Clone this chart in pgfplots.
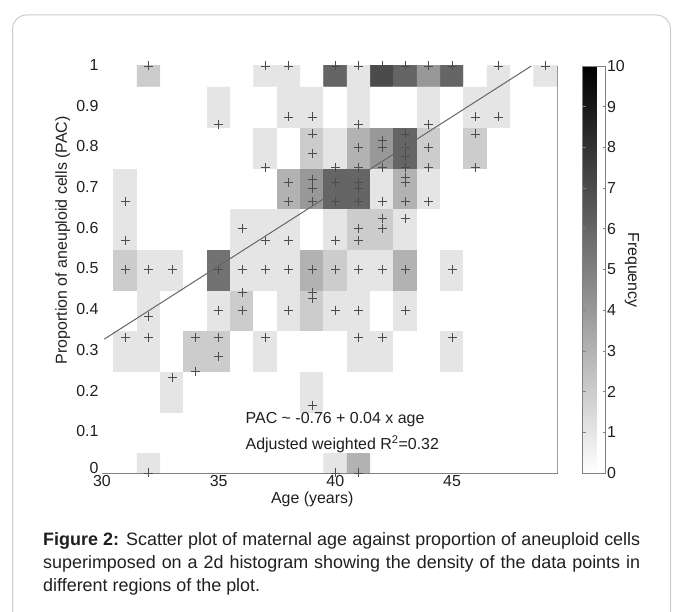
\documentclass[border=0pt]{standalone}
\usepackage{pgfplots}
\pgfplotsset{compat=1.18}
\usepackage{fontspec}
\setmainfont{Liberation Sans}
\pgfplotsset{/pgf/number format/assume math mode=true}
\definecolor{axgray}{gray}{0.5}
\definecolor{markgray}{gray}{0.3}
\definecolor{framegray}{gray}{0.8}
\definecolor{txt}{gray}{0.12}
\begin{document}
\begin{tikzpicture}
\useasboundingbox (0,0) rectangle (683bp,612bp);
\clip (0,0) rectangle (683bp,612bp);
\draw[framegray, line width=1bp, rounded corners=14bp] (12.5bp,-30bp) rectangle (670.5bp,597bp);
\begin{axis}[
  at={(102bp,139bp)}, anchor=south west,
  scale only axis, width=455bp, height=407bp,
  xmin=30, xmax=49.5, ymin=0, ymax=1,
  xtick={30,35,40,45},
  ytick={0,0.1,0.2,0.3,0.4,0.5,0.6,0.7,0.8,0.9,1},
  yticklabels={\raisebox{-2bp}[0pt][0pt]{0},0.1,0.2,0.3,0.4,0.5,0.6,0.7,0.8,0.9,1},
  tick align=inside, major tick length=5bp,
  axis line style={axgray, line width=0.8bp},
  tick style={axgray, line width=0.8bp},
  tick label style={font=\fontsize{16}{19}\selectfont, text=txt},
  xticklabel style={anchor=north, inner ysep=0pt, yshift=-2.5bp},
  yticklabel style={inner ysep=0pt, yshift=1bp},
  label style={font=\fontsize{16}{19}\selectfont, text=txt},
  xlabel={Age (years)},
  ylabel={Proportion of aneuploid cells (PAC)},
  xlabel style={at={(axis description cs:0.462,-0.064)}, anchor=center, inner ysep=0pt},
  ylabel style={at={(axis description cs:-0.086,0.572)}, anchor=center},
  colormap={bw}{color=(white) color=(black)},
  point meta min=0, point meta max=10,
  clip mode=individual,
  colorbar,
  colorbar style={
    at={(parent axis.north east)}, anchor=north west, xshift=17bp,
    width=23bp,
    ytick={0,1,2,3,4,5,6,7,8,9,10},
    tick align=inside, major tick length=3bp,
    axis line style={axgray, line width=0.8bp},
    tick style={axgray, line width=0.6bp},
    yticklabel style={font=\fontsize{16}{19}\selectfont, text=txt, xshift=-2bp},
  },
]
\addplot[matrix plot*, mesh/cols=20, point meta=explicit] coordinates {
(30,0)[0] (31,0)[0] (32,0)[1] (33,0)[0] (34,0)[0] (35,0)[0] (36,0)[0] (37,0)[0] (38,0)[0] (39,0)[0] (40,0)[1] (41,0)[3] (42,0)[0] (43,0)[0] (44,0)[0] (45,0)[0] (46,0)[0] (47,0)[0] (48,0)[0] (49,0)[0]

(30,0.1)[0] (31,0.1)[0] (32,0.1)[0] (33,0.1)[0] (34,0.1)[0] (35,0.1)[0] (36,0.1)[0] (37,0.1)[0] (38,0.1)[0] (39,0.1)[0] (40,0.1)[0] (41,0.1)[0] (42,0.1)[0] (43,0.1)[0] (44,0.1)[0] (45,0.1)[0] (46,0.1)[0] (47,0.1)[0] (48,0.1)[0] (49,0.1)[0]

(30,0.2)[0] (31,0.2)[0] (32,0.2)[0] (33,0.2)[1] (34,0.2)[0] (35,0.2)[0] (36,0.2)[0] (37,0.2)[0] (38,0.2)[0] (39,0.2)[1] (40,0.2)[0] (41,0.2)[0] (42,0.2)[0] (43,0.2)[0] (44,0.2)[0] (45,0.2)[0] (46,0.2)[0] (47,0.2)[0] (48,0.2)[0] (49,0.2)[0]

(30,0.3)[0] (31,0.3)[1] (32,0.3)[1] (33,0.3)[0] (34,0.3)[2] (35,0.3)[2] (36,0.3)[0] (37,0.3)[1] (38,0.3)[0] (39,0.3)[0] (40,0.3)[0] (41,0.3)[1] (42,0.3)[1] (43,0.3)[0] (44,0.3)[0] (45,0.3)[1] (46,0.3)[0] (47,0.3)[0] (48,0.3)[0] (49,0.3)[0]

(30,0.4)[0] (31,0.4)[0] (32,0.4)[1] (33,0.4)[0] (34,0.4)[0] (35,0.4)[1] (36,0.4)[2] (37,0.4)[0] (38,0.4)[1] (39,0.4)[2] (40,0.4)[1] (41,0.4)[1] (42,0.4)[0] (43,0.4)[1] (44,0.4)[0] (45,0.4)[0] (46,0.4)[0] (47,0.4)[0] (48,0.4)[0] (49,0.4)[0]

(30,0.5)[0] (31,0.5)[2] (32,0.5)[1] (33,0.5)[1] (34,0.5)[0] (35,0.5)[5.5] (36,0.5)[1] (37,0.5)[1] (38,0.5)[1] (39,0.5)[3] (40,0.5)[2] (41,0.5)[1] (42,0.5)[1] (43,0.5)[3] (44,0.5)[0] (45,0.5)[1] (46,0.5)[0] (47,0.5)[0] (48,0.5)[0] (49,0.5)[0]

(30,0.6)[0] (31,0.6)[1] (32,0.6)[0] (33,0.6)[0] (34,0.6)[0] (35,0.6)[0] (36,0.6)[1] (37,0.6)[1] (38,0.6)[1] (39,0.6)[0] (40,0.6)[1] (41,0.6)[2] (42,0.6)[2] (43,0.6)[1] (44,0.6)[0] (45,0.6)[0] (46,0.6)[0] (47,0.6)[0] (48,0.6)[0] (49,0.6)[0]

(30,0.7)[0] (31,0.7)[1] (32,0.7)[0] (33,0.7)[0] (34,0.7)[0] (35,0.7)[0] (36,0.7)[0] (37,0.7)[0] (38,0.7)[3] (39,0.7)[4] (40,0.7)[6] (41,0.7)[6] (42,0.7)[1] (43,0.7)[3] (44,0.7)[1] (45,0.7)[0] (46,0.7)[0] (47,0.7)[0] (48,0.7)[0] (49,0.7)[0]

(30,0.8)[0] (31,0.8)[0] (32,0.8)[0] (33,0.8)[0] (34,0.8)[0] (35,0.8)[0] (36,0.8)[0] (37,0.8)[1] (38,0.8)[0] (39,0.8)[2] (40,0.8)[1] (41,0.8)[3] (42,0.8)[4] (43,0.8)[6] (44,0.8)[2] (45,0.8)[0] (46,0.8)[2] (47,0.8)[0] (48,0.8)[0] (49,0.8)[0]

(30,0.9)[0] (31,0.9)[0] (32,0.9)[0] (33,0.9)[0] (34,0.9)[0] (35,0.9)[1] (36,0.9)[0] (37,0.9)[0] (38,0.9)[1] (39,0.9)[1] (40,0.9)[0] (41,0.9)[1] (42,0.9)[0] (43,0.9)[0] (44,0.9)[1] (45,0.9)[0] (46,0.9)[1] (47,0.9)[1] (48,0.9)[0] (49,0.9)[0]

(30,1)[0] (31,1)[0] (32,1)[2] (33,1)[0] (34,1)[0] (35,1)[0] (36,1)[0] (37,1)[1] (38,1)[1] (39,1)[0] (40,1)[6] (41,1)[1] (42,1)[7] (43,1)[6] (44,1)[4] (45,1)[6] (46,1)[0] (47,1)[1] (48,1)[0] (49,1)[1]
};
\addplot[only marks, mark=+, mark size=4.5bp, mark options={draw=markgray, line width=0.6bp}] coordinates {
(31,0.667) (31,0.571) (31,0.5) (31,0.333)
(32,1) (32,0.5) (32,0.385) (32,0.333) (32,0)
(33,0.5) (33,0.235)
(34,0.333) (34,0.25)
(35,0.857) (35,0.5) (35,0.4) (35,0.333) (35,0.286)
(36,0.6) (36,0.5) (36,0.444) (36,0.4)
(37,1) (37,0.75) (37,0.571) (37,0.5) (37,0.333)
(38,1) (38,0.875) (38,0.714) (38,0.667) (38,0.571) (38,0.5) (38,0.4)
(39,0.875) (39,0.833) (39,0.786) (39,0.722) (39,0.7) (39,0.667) (39,0.5) (39,0.444) (39,0.429) (39,0.167)
(40,1) (40,0.75) (40,0.714) (40,0.667) (40,0.571) (40,0.5) (40,0.4) (40,0)
(41,1) (41,0.857) (41,0.8) (41,0.75) (41,0.714) (41,0.7) (41,0.667) (41,0.6) (41,0.571) (41,0.5) (41,0.4) (41,0.333) (41,0)
(42,1) (42,0.818) (42,0.8) (42,0.75) (42,0.667) (42,0.625) (42,0.6) (42,0.5) (42,0.333)
(43,1) (43,0.833) (43,0.8) (43,0.778) (43,0.75) (43,0.727) (43,0.714) (43,0.667) (43,0.625) (43,0.5) (43,0.4)
(44,1) (44,0.857) (44,0.8) (44,0.75) (44,0.667)
(45,1) (45,0.5) (45,0.333)
(46,0.875) (46,0.833) (46,0.75)
(47,1) (47,0.875)
(49,1)
};
\addplot[no marks, draw=black!60, line width=1bp] coordinates {(30.1,0.329) (48.4,1)};
\node[anchor=west, inner sep=0pt, font=\fontsize{16}{19}\selectfont, text=txt] at (axis cs:36.15,0.13) {PAC \textasciitilde{} -0.76 + 0.04 x age};
\node[anchor=west, inner sep=0pt, font=\fontsize{16}{19}\selectfont, text=txt] at (axis cs:36.15,0.071) {Adjusted weighted R\textsuperscript{2}=0.32};
\end{axis}
\node[rotate=-90, inner sep=0pt, font=\fontsize{16}{19}\selectfont, text=txt] at (632bp,342bp) {Frequency};
\node[anchor=north west, inner sep=0pt, text width=597bp, align=justify, font=\fontsize{18}{23}\selectfont, text=txt] at (43bp,80bp) {\textbf{Figure 2:} Scatter plot of maternal age against proportion of aneuploid cells\linebreak superimposed on a 2d histogram showing the density of the data points in\linebreak different regions of the plot.};
\end{tikzpicture}
\end{document}
